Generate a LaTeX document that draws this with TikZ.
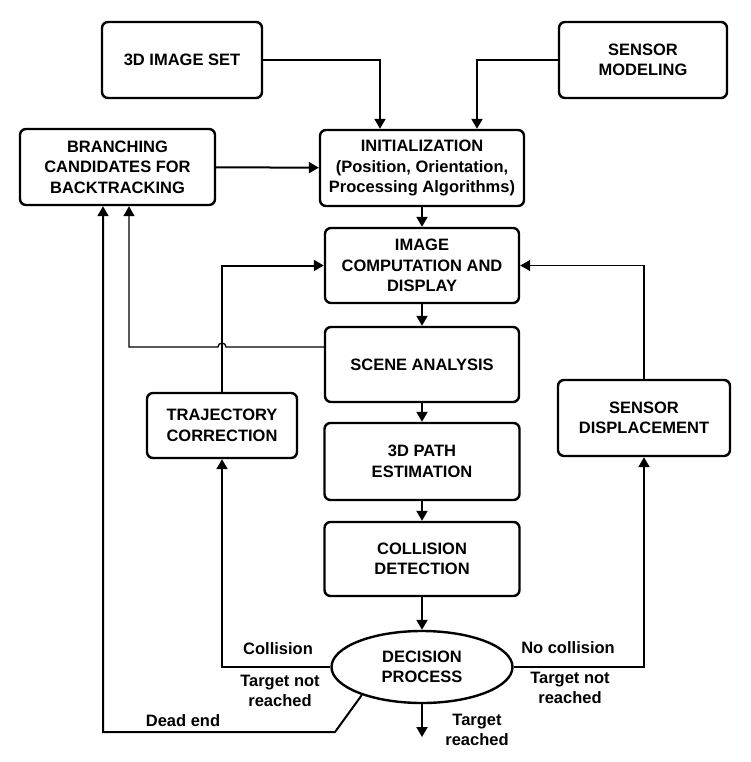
\documentclass[tikz,border=0pt]{standalone}
\usepackage{fontspec}
\setmainfont{Liberation Sans}
\usetikzlibrary{arrows.meta,shapes.geometric}

\begin{document}
\begin{tikzpicture}
		[x=1pt,y=-1pt,
		font=\fontsize{16.5}{20.5}\selectfont\bfseries,
		box/.style={draw,line width=2.4pt,rounded corners=6pt,fill=white,align=center,inner sep=2pt},
		link/.style={line width=2pt,-{Triangle[length=10pt,width=11pt]}},
		thinlink/.style={line width=1.3pt,-{Triangle[length=10pt,width=11pt]}},
		lbl/.style={align=center,inner sep=0pt}]
		\useasboundingbox (0,0) rectangle (750,762);

		\node[box,minimum width=160pt,minimum height=76pt] (imgset) at (182,60) {3D IMAGE SET};
		\node[box,minimum width=168pt,minimum height=76pt] (sensmod) at (643,60) {SENSOR\\MODELING};
		\node[box,minimum width=195pt,minimum height=76pt] (branch) at (117.5,167) {BRANCHING\\CANDIDATES FOR\\BACKTRACKING};
		\node[box,minimum width=204pt,minimum height=76pt] (init) at (422,168) {INITIALIZATION\\(Position, Orientation,\\Processing Algorithms)};
		\node[box,minimum width=194pt,minimum height=75pt] (imgcomp) at (422,265.5) {IMAGE\\COMPUTATION AND\\DISPLAY};
		\node[box,minimum width=194pt,minimum height=75pt] (scene) at (422,364.5) {SCENE ANALYSIS};
		\node[box,minimum width=195pt,minimum height=77pt] (path) at (422,461.5) {3D PATH\\ESTIMATION};
		\node[box,minimum width=195pt,minimum height=74pt] (collide) at (422,559) {COLLISION\\DETECTION};
		\node[box,minimum width=150pt,minimum height=65pt] (traj) at (222,425.5) {TRAJECTORY\\CORRECTION};
		\node[box,minimum width=172pt,minimum height=76pt] (sensdisp) at (644,418) {SENSOR\\DISPLACEMENT};
		\node[draw,ellipse,line width=2.4pt,fill=white,align=center,inner sep=0pt,minimum width=181pt,minimum height=72pt] (decide) at (422,667) {DECISION\\PROCESS};
		\coordinate (done) at (422,737);

		\draw[link] (imgset.east) -| ([xshift=-42pt]init.north);
		\draw[link] (sensmod.west) -| ([xshift=55pt]init.north);
		\draw[link] (branch) -- (init);
		\draw[link] (init) -- (imgcomp);
		\draw[link] (imgcomp) -- (scene);
		\draw[link] (scene) -- (path);
		\draw[link] (path) -- (collide);
		\draw[link] (collide) -- (decide);
		\draw[link] (decide) -- (done);
		\draw[thinlink] ([yshift=17.5pt]scene.west) -- (226,347) arc[start angle=0,end angle=180,radius=4pt] -- (129,347) -- ([xshift=11.5pt]branch.south);
		\draw[link] (traj.north) |- (imgcomp.west);
		\draw[thinlink] (sensdisp.north) |- (imgcomp.east);
		\draw[link] (decide.east) -| (sensdisp.south);
		\draw[link] (decide.west) -| (traj.south);
		\draw[link] (decide.205) -- (335,732) -| ([xshift=-14.5pt]branch.south);

		\node[lbl] (lcoll) at (278,649) {Collision};
		\node[lbl] (lnotl) at (280,691) {Target not\\reached};
		\node[lbl] (ldead) at (183,721) {Dead end};
		\node[lbl] (lnocoll) at (568,648) {No collision};
		\node[lbl] (lnotr) at (570,688) {Target not\\reached};
		\node[lbl] (lreach) at (477,730) {Target\\reached};

	\end{tikzpicture}
\end{document}
